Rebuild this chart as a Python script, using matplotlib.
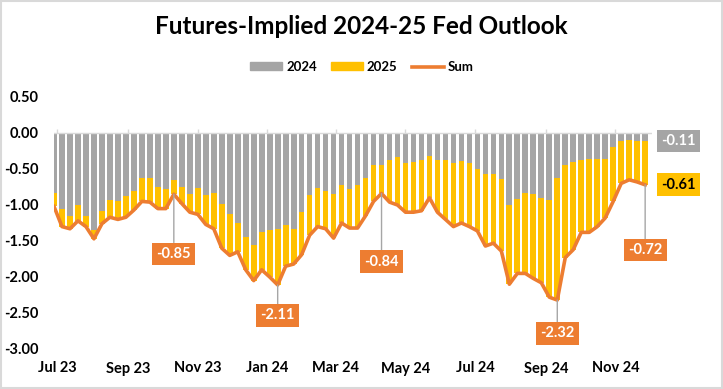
import numpy as np
import pandas as pd
import matplotlib
matplotlib.use('Agg')
import matplotlib.pyplot as plt
import matplotlib.dates as mdates
from matplotlib.patches import Patch, Rectangle
from matplotlib.lines import Line2D

plt.rcParams['font.family'] = ['Lato', 'DejaVu Sans']
plt.rcParams['font.weight'] = 'bold'

# weekly readings (Monday of each week), values in % points of cuts
week_start = pd.date_range('2023-06-26', periods=75, freq='W-MON')

fed_2024 = [-0.84, -1.05, -1.15, -1.00, -1.15, -1.35, -1.08, -0.93, -0.95, -0.88,
            -0.80, -0.63, -0.63, -0.75, -0.78, -0.65, -0.75, -0.85, -0.77, -0.86,
            -0.84, -0.98, -1.12, -1.25, -1.45, -1.55, -1.38, -1.35, -1.33, -1.28,
            -1.33, -1.10, -0.86, -0.76, -0.80, -0.85, -0.72, -0.78, -0.72, -0.62,
            -0.45, -0.45, -0.37, -0.33, -0.42, -0.40, -0.37, -0.32, -0.38, -0.38,
            -0.41, -0.39, -0.42, -0.50, -0.57, -0.57, -0.64, -1.00, -0.92, -0.84,
            -0.85, -0.90, -0.93, -0.62, -0.45, -0.40, -0.37, -0.36, -0.36, -0.36,
            -0.20, -0.11, -0.10, -0.11, -0.11]

fed_sum = [-1.02, -1.30, -1.33, -1.22, -1.30, -1.47, -1.26, -1.17, -1.20, -1.17,
           -1.07, -0.95, -0.96, -1.05, -1.05, -0.85, -0.98, -1.10, -1.13, -1.27,
           -1.33, -1.60, -1.70, -1.65, -1.90, -2.05, -1.90, -2.00, -2.11, -1.85,
           -1.82, -1.69, -1.42, -1.30, -1.33, -1.46, -1.25, -1.32, -1.32, -1.15,
           -0.95, -0.84, -0.96, -1.00, -1.10, -1.10, -1.08, -0.90, -1.10, -1.20,
           -1.30, -1.25, -1.30, -1.36, -1.57, -1.53, -1.64, -2.10, -1.95, -1.95,
           -2.02, -2.08, -2.28, -2.32, -1.73, -1.62, -1.38, -1.38, -1.30, -1.18,
           -0.95, -0.70, -0.65, -0.68, -0.72]

# weeks that get a callout label on the Sum line
callouts = [15, 28, 41, 63, 74]

fed_2024 = np.array(fed_2024)
fed_sum = np.array(fed_sum)
fed_2025 = fed_sum - fed_2024

gray = '#A5A5A5'
gold = '#FFC000'
orange = '#ED7D31'

fig = plt.figure(figsize=(7.23, 3.89), dpi=100)
ax = fig.add_axes([54 / 723, 40 / 389, 598 / 723, 252 / 389])

left = mdates.date2num(week_start) - 0.5
mid = mdates.date2num(week_start) + 2

ax.bar(left, fed_2024, width=5, align='edge', color=gray, linewidth=0, zorder=1)
ax.bar(left, fed_2025, bottom=fed_2024, width=5, align='edge', color=gold,
       linewidth=0, zorder=1)
ax.plot(mid, fed_sum, color=orange, lw=2.6, solid_joinstyle='round', zorder=3)

ax.set_xlim(mdates.date2num(pd.Timestamp('2023-06-28')),
            mdates.date2num(pd.Timestamp('2024-12-03')))
ax.set_ylim(-3, 0.5)

# zero line with small month ticks
ticks = pd.date_range('2023-07-01', '2024-11-01', freq='2MS')
tick_nums = mdates.date2num(ticks)
ax.axhline(0, color='#D9D9D9', lw=1, zorder=4)
ax.vlines(tick_nums, 0, 0.05, color='#D9D9D9', lw=1, zorder=4)

ax.set_xticks(tick_nums)
ax.set_xticklabels([t.strftime('%b %y') for t in ticks])
yt = np.arange(-3, 0.51, 0.5)
ax.set_yticks(yt)
ax.set_yticklabels([f"{v:.2f}" for v in yt])
ax.tick_params(axis='x', length=0, pad=9, labelsize=10.5)
ax.tick_params(axis='y', length=0, pad=11, labelsize=10.5)
for s in ax.spines.values():
    s.set_visible(False)

# data labels
def callout(x, y, text, dy, fc, tc='white', dx=0, leader=True):
    arrow = dict(arrowstyle='-', color='#A6A6A6', lw=1, shrinkA=0, shrinkB=0) if leader else None
    ax.annotate(text, xy=(x, y), xytext=(dx, dy), textcoords='offset points',
                ha='center', va='center', fontsize=10.5, weight='bold', color=tc,
                bbox=dict(boxstyle='square,pad=0.3', fc=fc, ec='none'),
                arrowprops=arrow, annotation_clip=False, zorder=6)

offsets = [-43, -22, -49, -24, -47]
for i, dy in zip(callouts, offsets):
    callout(mid[i], fed_sum[i], f"{fed_sum[i]:.2f}", dy, orange)

callout(mid[-1], fed_2024[-1], f"{fed_2024[-1]:.2f}", 0, gray, dx=24, leader=False)
callout(mid[-1], fed_sum[-1], f"{fed_2025[-1]:.2f}", 0, gold, tc='black', dx=24,
        leader=False)

fig.text(361 / 723, 1 - 27 / 389, 'Futures-Implied 2024-25 Fed Outlook',
         ha='center', va='center', fontsize=17.5, weight='bold')

handles = [Patch(color=gray), Patch(color=gold), Line2D([], [], color=orange, lw=2.6)]
fig.legend(handles, ['2024', '2025', 'Sum'], loc='center',
           bbox_to_anchor=(362 / 723, 1 - 67 / 389), ncol=3, frameon=False,
           fontsize=9.5, handlelength=2.4, handleheight=0.55, columnspacing=1.1,
           handletextpad=0.3)

fig.add_artist(Rectangle((0.001, 0.002), 0.997, 0.995, transform=fig.transFigure,
                         fill=False, ec='#D9D9D9', lw=1.5))

fig.savefig('out.png', dpi=100)
plt.close(fig)
